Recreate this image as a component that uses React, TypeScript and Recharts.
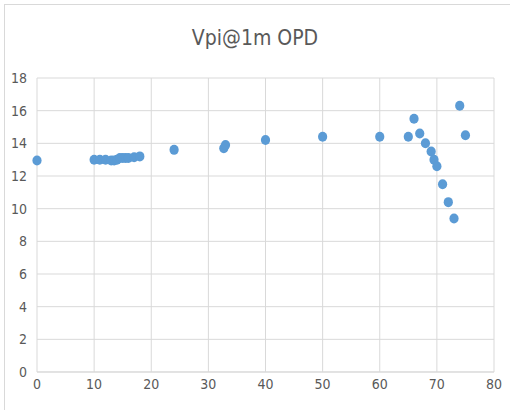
import { ScatterChart, Scatter, XAxis, YAxis, CartesianGrid } from "recharts";

// Vpi@1m OPD samples
const opd = [
  0, 10, 11, 12, 13, 13.5, 14, 14.5, 15, 15.5, 16, 17, 18, 24, 32.7, 33, 40, 50,
  60, 65, 66, 67, 68, 69, 69.5, 70, 71, 72, 73, 74, 75,
];
const vpi = [
  12.95, 13.0, 13.0, 13.0, 12.95, 12.95, 13.0, 13.1, 13.1, 13.1, 13.1, 13.15,
  13.2, 13.6, 13.7, 13.9, 14.2, 14.4, 14.4, 14.4, 15.5, 14.6, 14.0, 13.5, 13.0,
  12.6, 11.5, 10.4, 9.4, 16.3, 14.5,
];
const xTicks = [0, 10, 20, 30, 40, 50, 60, 70, 80];
const yTicks = [0, 2, 4, 6, 8, 10, 12, 14, 16, 18];

const points = opd.map((x, i) => ({ x, y: vpi[i] }));

const font = "'Liberation Sans Narrow', 'DejaVu Sans Condensed', sans-serif";
const tickStyle = { fill: "#595959", fontSize: 14, fontFamily: font };

export default function App() {
  return (
    <div
      style={{
        position: "absolute",
        left: 0,
        top: 0,
        width: 510,
        height: 410,
        overflow: "hidden",
        background: "#fff",
      }}
    >
      <div
        style={{
          position: "absolute",
          left: 4,
          top: 4,
          width: 530,
          height: 430,
          border: "1px solid #d9d9d9",
        }}
      />
      <div
        style={{
          position: "absolute",
          left: 0,
          top: 26,
          width: 510,
          textAlign: "center",
          fontFamily: font,
          fontSize: 21,
          color: "#595959",
        }}
      >
        Vpi@1m OPD
      </div>
      <div style={{ position: "absolute", left: 0, top: 0 }}>
        <ScatterChart
          width={510}
          height={410}
          margin={{ top: 78, right: 16, bottom: 18, left: 7 }}
        >
          <CartesianGrid stroke="#d9d9d9" />
          <XAxis
            type="number"
            dataKey="x"
            domain={[0, 80]}
            ticks={xTicks}
            height={20}
            tickSize={0}
            tickMargin={7}
            axisLine={{ stroke: "#d9d9d9" }}
            tick={tickStyle}
          />
          <YAxis
            type="number"
            dataKey="y"
            domain={[0, 18]}
            ticks={yTicks}
            width={30}
            tickSize={0}
            tickMargin={10}
            axisLine={false}
            tick={tickStyle}
          />
          <Scatter
            data={points}
            fill="#5b9bd5"
            isAnimationActive={false}
            shape={(p: any) => (
              <ellipse cx={p.cx} cy={p.cy} rx={4.6} ry={5} fill="#5b9bd5" />
            )}
          />
        </ScatterChart>
      </div>
    </div>
  );
}
